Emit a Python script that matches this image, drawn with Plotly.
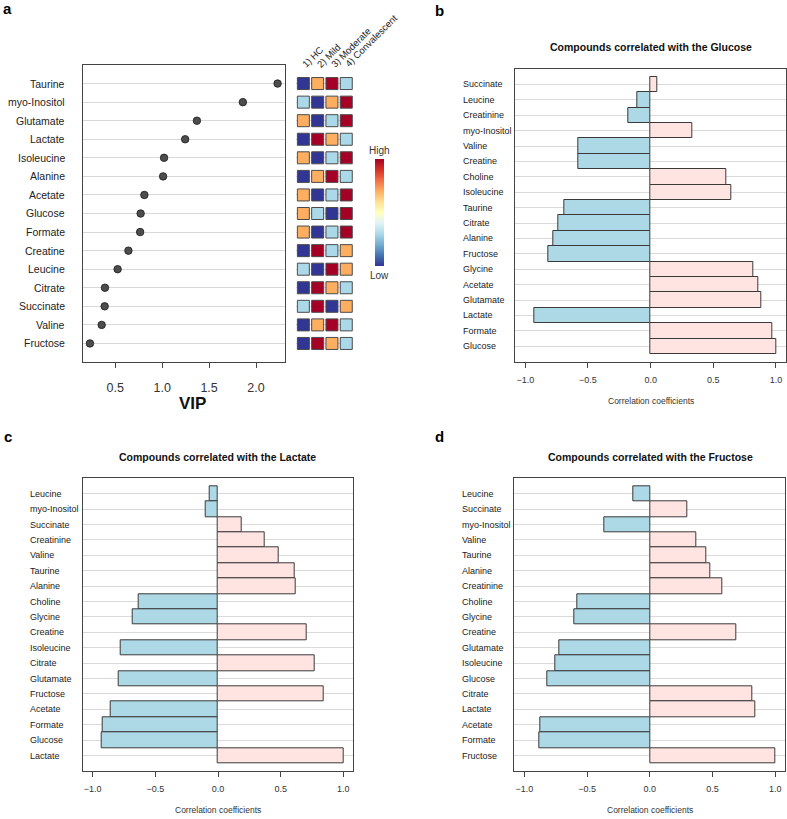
import plotly.graph_objects as go

W, H = 787, 819
FONT = "Liberation Sans, Arial, sans-serif"
TXT = "#222222"

# ---------------- Panel a data ----------------
vip_names = ["Taurine", "myo-Inositol", "Glutamate", "Lactate", "Isoleucine", "Alanine",
             "Acetate", "Glucose", "Formate", "Creatine", "Leucine", "Citrate",
             "Succinate", "Valine", "Fructose"]
vip_values = [2.23, 1.86, 1.37, 1.245, 1.02, 1.01, 0.81, 0.77, 0.765, 0.64, 0.525,
              0.39, 0.387, 0.355, 0.23]
groups = ["1) HC", "2) Mild", "3) Moderate", "4) Convalescent"]
# relative level per group (1 = lowest ... 4 = highest)
hc_level = [1, 2, 3, 1, 3, 1, 3, 3, 3, 1, 2, 1, 2, 1, 1]
mild_level = [3, 1, 1, 4, 1, 3, 1, 2, 1, 4, 1, 4, 4, 3, 4]
moderate_level = [4, 3, 2, 3, 2, 4, 2, 1, 2, 2, 4, 3, 1, 4, 3]
conv_level = [2, 4, 4, 2, 4, 2, 4, 4, 4, 3, 3, 2, 3, 2, 2]
vip_ticks = [0.5, 1.0, 1.5, 2.0]

# ---------------- Panels b, c, d data ----------------
glucose_names = ["Succinate", "Leucine", "Creatinine", "myo-Inositol", "Valine", "Creatine",
                 "Choline", "Isoleucine", "Taurine", "Citrate", "Alanine", "Fructose",
                 "Glycine", "Acetate", "Glutamate", "Lactate", "Formate", "Glucose"]
glucose_r = [0.05, -0.11, -0.18, 0.335, -0.58, -0.58, 0.605, 0.64, -0.69, -0.74, -0.78,
             -0.815, 0.82, 0.86, 0.885, -0.925, 0.97, 1.0]

lactate_names = ["Leucine", "myo-Inositol", "Succinate", "Creatinine", "Valine", "Taurine",
                 "Alanine", "Choline", "Glycine", "Creatine", "Isoleucine", "Citrate",
                 "Glutamate", "Fructose", "Acetate", "Formate", "Glucose", "Lactate"]
lactate_r = [-0.07, -0.10, 0.19, 0.37, 0.485, 0.61, 0.62, -0.63, -0.68, 0.71, -0.775, 0.775,
             -0.795, 0.84, -0.855, -0.92, -0.925, 1.0]

fructose_names = ["Leucine", "Succinate", "myo-Inositol", "Valine", "Taurine", "Alanine",
                  "Creatinine", "Choline", "Glycine", "Creatine", "Glutamate", "Isoleucine",
                  "Glucose", "Citrate", "Lactate", "Acetate", "Formate", "Fructose"]
fructose_r = [-0.13, 0.30, -0.36, 0.37, 0.45, 0.48, 0.575, -0.58, -0.60, 0.69, -0.72, -0.75,
              -0.815, 0.815, 0.84, -0.87, -0.88, 1.0]
corr_ticks = [-1.0, -0.5, 0.0, 0.5, 1.0]


def px(x):
    return x / W


def py(y):
    return 1 - y / H


level_colors = {1: "#313695", 2: "#ABD9E9", 3: "#FDAE61", 4: "#A50026"}

fig = go.Figure()

# dot plot (panel a)
fig.add_trace(go.Scatter(
    x=vip_values, y=vip_names, mode="markers", xaxis="x", yaxis="y",
    marker=dict(size=7.5, color="#4D4D4D", line=dict(color="#1a1a1a", width=0.8)),
    showlegend=False, hoverinfo="x+y"))

# level squares (panel a)
levels = [hc_level, mild_level, moderate_level, conv_level]
for g, lv in zip(groups, levels):
    fig.add_trace(go.Scatter(
        x=[g] * len(vip_names), y=vip_names, mode="markers", xaxis="x2", yaxis="y",
        marker=dict(symbol="square", size=12, color=[level_colors[v] for v in lv],
                    line=dict(color="#4a4a4a", width=1)),
        showlegend=False, hoverinfo="x+y"))

# colorbar carrier
fig.add_trace(go.Scatter(
    x=[groups[0]], y=[vip_names[0]], mode="markers", xaxis="x2", yaxis="y",
    marker=dict(color=[1], cmin=1, cmax=4, colorscale="RdYlBu", reversescale=True,
                opacity=0, size=1, showscale=True,
                colorbar=dict(x=px(375.3), xanchor="left", y=py(213), yanchor="middle",
                              len=107.4 / H, lenmode="fraction", thickness=9,
                              thicknessmode="pixels", xpad=0, ypad=0, outlinewidth=0,
                              showticklabels=False, ticks="")),
    showlegend=False, hoverinfo="skip"))

# bar panels
bar_panels = [
    (glucose_names, glucose_r, "x3", "y3"),
    (lactate_names, lactate_r, "x4", "y4"),
    (fructose_names, fructose_r, "x5", "y5"),
]
for names, vals, xa, ya in bar_panels:
    fig.add_trace(go.Bar(
        x=vals, y=names, orientation="h", xaxis=xa, yaxis=ya, width=1,
        marker=dict(color=["#FFE4E1" if v > 0 else "#ADD8E6" for v in vals],
                    line=dict(color="#3a3a3a", width=1)),
        showlegend=False))

frame = dict(showline=True, mirror=True, linecolor="#444444", linewidth=1, zeroline=False)

layout = dict(
    width=W, height=H, margin=dict(l=0, r=0, t=0, b=0),
    paper_bgcolor="white", plot_bgcolor="white",
    font=dict(family=FONT, color=TXT), bargap=0,
    xaxis=dict(domain=[px(83), px(285)], range=[0.156, 2.309], anchor="y",
               tickvals=vip_ticks, tickformat=".1f", ticks="outside", ticklen=5,
               tickcolor="#444444", showgrid=False, tickfont=dict(size=12.5, color="#333"),
               ticklabelstandoff=9, **frame),
    yaxis=dict(domain=[py(362), py(65)], anchor="x", type="category",
               categoryorder="array", categoryarray=vip_names[::-1],
               range=[-1, len(vip_names)], showticklabels=False, ticks="",
               showgrid=True, gridcolor="#D9D9D9", gridwidth=1.3, **frame),
    xaxis2=dict(domain=[px(296.2), px(353.4)], range=[-0.5, 3.5], anchor="y",
                type="category", categoryorder="array", categoryarray=groups,
                visible=False),
)

corr_domains = {
    "3": ([px(515.3), px(786)], [py(361.7), py(69)]),
    "4": ([px(82.7), px(353.3)], [py(771), py(478.3)]),
    "5": ([px(514.3), px(785.3)], [py(771), py(478.3)]),
}
for (names, vals, xa, ya), key in zip(bar_panels, ["3", "4", "5"]):
    xd, yd = corr_domains[key]
    layout["xaxis" + key] = dict(domain=xd, range=[-1.08, 1.08], anchor="y" + key,
                                 tickvals=corr_ticks, tickformat=".1f", ticks="outside",
                                 ticklen=5, tickcolor="#444444", showgrid=False,
                                 tickfont=dict(size=9, color="#333"),
                                 ticklabelstandoff=4, **frame)
    layout["yaxis" + key] = dict(domain=yd, anchor="x" + key, type="category",
                                 categoryorder="array", categoryarray=names[::-1],
                                 range=[-1, len(names)], showticklabels=False, ticks="",
                                 showgrid=True, gridcolor="#DADADA", gridwidth=1, **frame)

fig.update_layout(**layout)

ann = []


def center_text(x, y, text, size, color):
    return dict(x=px(x), y=py(y), xref="paper", yref="paper", text=text, showarrow=False,
                xanchor="center", yanchor="middle", font=dict(size=size, color=color))


# panel a labels
for n in vip_names:
    ann.append(dict(x=px(66.7), xref="paper", y=n, yref="y", text=n, showarrow=False,
                    xanchor="right", yanchor="middle", font=dict(size=10.5, color=TXT)))
for g in groups:
    ann.append(dict(x=g, xref="x2", y=py(72), yref="paper", text=g, showarrow=False,
                    xanchor="left", yanchor="bottom", textangle=-45, xshift=-6,
                    font=dict(size=9.5, color=TXT)))
ann.append(center_text(192, 403, "<b>VIP</b>", 17, "#111"))
ann.append(center_text(379.8, 150.7, "High", 10, "#333"))
ann.append(center_text(379.8, 275.3, "Low", 10, "#333"))

titles = ["Compounds correlated with the Glucose", "Compounds correlated with the Lactate",
          "Compounds correlated with the Fructose"]
title_pos = [(650.7, 47.3), (217.8, 456.7), (650, 456.7)]
xlab_pos = [(650.5, 401), (217.8, 810), (649.7, 810)]
label_x = [460.7, 28, 459.7]
for (names, vals, xa, ya), t, tp, xp, lx in zip(bar_panels, titles, title_pos, xlab_pos, label_x):
    ann.append(center_text(tp[0], tp[1], "<b>" + t + "</b>", 10.5, "#111"))
    ann.append(center_text(xp[0], xp[1], "Correlation coefficients", 8.5, "#333"))
    for n in names:
        ann.append(dict(x=px(lx), xref="paper", y=n, yref=ya, text=n, showarrow=False,
                        xanchor="left", yanchor="middle", font=dict(size=9, color=TXT)))

for letter, (lx, ly) in zip("abcd", [(7.5, 9), (439, 10.5), (7.5, 436.5), (439, 436.5)]):
    ann.append(center_text(lx, ly, "<b>" + letter + "</b>", 15, "#000"))

fig.update_layout(annotations=ann)
fig.write_html("out.html", config={"displayModeBar": False},
               post_script="document.body.style.margin='0';")
